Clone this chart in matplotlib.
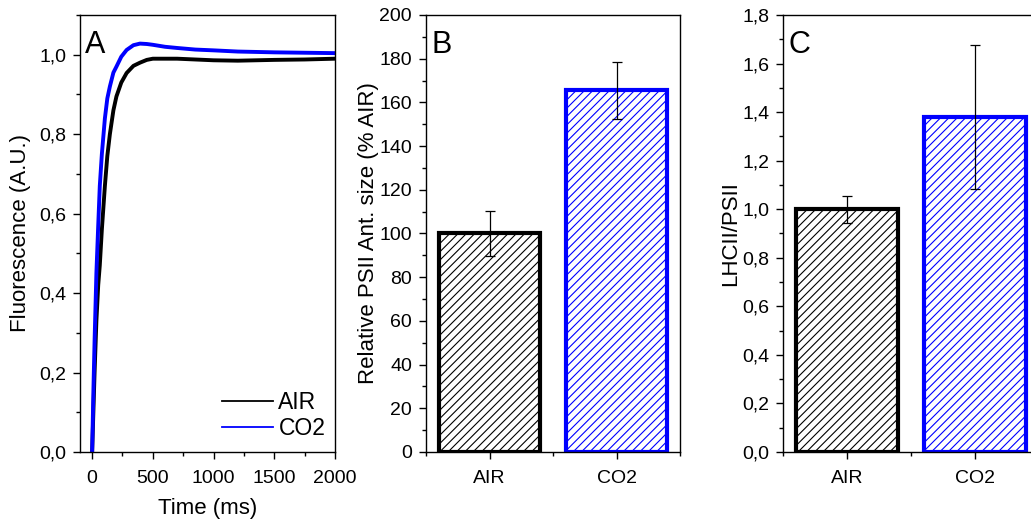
import numpy as np
import matplotlib.pyplot as plt
from matplotlib.ticker import MultipleLocator, FuncFormatter

plt.rcParams['font.family'] = ['Liberation Sans', 'DejaVu Sans']
plt.rcParams['hatch.linewidth'] = 0.8

# panel A: fluorescence induction traces
t_ms = [0, 10, 20, 35, 50, 63, 80, 105, 125, 146, 175, 200, 240, 284, 340, 394, 450, 500,
        600, 700, 850, 1000, 1200, 1500, 1750, 2000]
f_air = [0.0, 0.10, 0.20, 0.33, 0.42, 0.47, 0.56, 0.67, 0.745, 0.80, 0.86, 0.895, 0.93, 0.954,
         0.972, 0.98, 0.987, 0.99, 0.99, 0.99, 0.988, 0.986, 0.985, 0.987, 0.988, 0.99]
f_co2 = [0.0, 0.15, 0.28, 0.45, 0.57, 0.67, 0.75, 0.84, 0.89, 0.92, 0.955, 0.97, 0.995, 1.012,
         1.024, 1.028, 1.027, 1.025, 1.02, 1.017, 1.013, 1.011, 1.008, 1.006, 1.005, 1.004]

# panel B / C: bars
groups = ['AIR', 'CO2']
ant_size = [100, 165.5]
ant_err = [10.3, 13.0]
lhc_ratio = [1.0, 1.38]
lhc_err = [0.055, 0.295]

colors = ['black', '#0000ff']

comma = FuncFormatter(lambda v, p: ('%.1f' % v).replace('.', ','))

fig = plt.figure(figsize=(10.31, 5.19), dpi=100)
axA = fig.add_axes([0.0776, 0.1291, 0.2473, 0.842])
axB = fig.add_axes([0.4132, 0.1291, 0.2464, 0.842])
axC = fig.add_axes([0.7595, 0.1291, 0.2483, 0.842])

for ax in (axA, axB, axC):
    ax.tick_params(which='major', direction='out', length=5, width=1, labelsize=14,
                   pad=5, top=False, right=False)
    ax.tick_params(which='minor', direction='out', length=3, width=1, top=False, right=False)
    for s in ax.spines.values():
        s.set_linewidth(1)

# A
axA.plot(t_ms, f_air, color='black', lw=2.8, label='AIR')
axA.plot(t_ms, f_co2, color='#0000ff', lw=2.8, label='CO2')
axA.set_xlim(-100, 2000)
axA.set_ylim(0, 1.1)
axA.xaxis.set_major_locator(MultipleLocator(500))
axA.xaxis.set_minor_locator(MultipleLocator(250))
axA.yaxis.set_major_locator(MultipleLocator(0.2))
axA.yaxis.set_minor_locator(MultipleLocator(0.1))
axA.yaxis.set_major_formatter(comma)
axA.tick_params(axis='x', pad=8)
axA.set_xlabel('Time (ms)', fontsize=16, labelpad=8)
axA.set_ylabel('Fluorescence (A.U.)', fontsize=16, labelpad=6)
leg = axA.legend(loc='lower right', frameon=False, fontsize=16.5, handlelength=2.2,
                 handletextpad=0.25, labelspacing=0.15, borderaxespad=0.3,
                 bbox_to_anchor=(1.025, -0.01))
for l in leg.get_lines():
    l.set_linewidth(1.3)
axA.text(0.02, 0.965, 'A', transform=axA.transAxes, fontsize=22, va='top', ha='left')

# B and C
x = np.arange(1, len(groups) + 1)
for ax, vals, errs, lim, major, minor, letter in [
        (axB, ant_size, ant_err, 200, 20, 10, 'B'),
        (axC, lhc_ratio, lhc_err, 1.8, 0.2, 0.1, 'C')]:
    for i in range(len(groups)):
        ax.bar(x[i], vals[i], width=0.8, facecolor='white', edgecolor=colors[i],
               linewidth=3, hatch='////', zorder=2)
    ax.errorbar(x, vals, yerr=errs, fmt='none', ecolor='black', elinewidth=0.9,
                capsize=3.5, capthick=0.9, zorder=3)
    ax.set_xlim(0.5, 2.5)
    ax.set_ylim(0, lim)
    ax.set_xticks(x)
    ax.set_xticklabels(groups, fontsize=14)
    ax.tick_params(axis='x', pad=8)
    ax.xaxis.set_minor_locator(MultipleLocator(0.5))
    ax.yaxis.set_major_locator(MultipleLocator(major))
    ax.yaxis.set_minor_locator(MultipleLocator(minor))
    ax.text(0.02, 0.965, letter, transform=ax.transAxes, fontsize=22, va='top', ha='left')

axC.yaxis.set_major_formatter(comma)
axB.set_ylabel('Relative PSII Ant. size (% AIR)', fontsize=16, labelpad=0)
axC.set_ylabel('LHCII/PSII', fontsize=16, labelpad=1)

fig.savefig('out.png', dpi=100)
